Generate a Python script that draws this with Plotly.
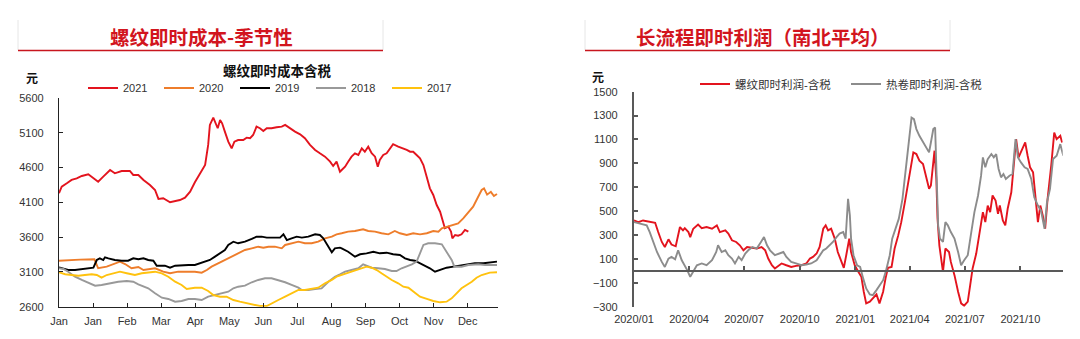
import pandas as pd
import plotly.graph_objects as go

W, H = 1080, 339

# ---------------- Left panel: rebar instant cost by season (yuan/t) ----------------
# x = position in months from the start of the year
month_labels = ["Jan", "Jan", "Feb", "Mar", "Apr", "May", "Jun", "Jul", "Aug", "Sep", "Oct", "Nov", "Dec"]

y2021_x = [0, 0.08, 0.23, 0.37, 0.52, 0.67, 0.86, 1.01, 1.15, 1.30,
           1.50, 1.64, 1.84, 2.08, 2.18, 2.33, 2.48, 2.67, 2.82, 2.92,
           3.06, 3.26, 3.41, 3.55, 3.70, 3.85, 3.99, 4.14, 4.19, 4.29,
           4.38, 4.43, 4.53, 4.60, 4.66, 4.73, 4.79, 4.87, 4.97, 5.07,
           5.15, 5.26, 5.41, 5.51, 5.61, 5.70, 5.80, 5.90, 6.00, 6.10,
           6.24, 6.39, 6.54, 6.64, 6.78, 6.93, 7.08, 7.22, 7.37, 7.52,
           7.66, 7.81, 7.96, 8.05, 8.15, 8.25, 8.30, 8.40, 8.49, 8.59,
           8.69, 8.79, 8.89, 8.98, 9.08, 9.18, 9.28, 9.36, 9.42, 9.52,
           9.62, 9.72, 9.81, 9.96, 10.11, 10.21, 10.31, 10.40, 10.50, 10.60,
           10.70, 10.80, 10.89, 10.99, 11.09, 11.19, 11.28, 11.33, 11.43, 11.51,
           11.55, 11.63, 11.72, 11.82, 11.92, 12.02]
y2021_v = [4230, 4324, 4373, 4421, 4445, 4478, 4503, 4454, 4396, 4468,
           4564, 4517, 4550, 4550, 4493, 4493, 4421, 4349, 4277, 4148,
           4158, 4100, 4119, 4133, 4166, 4253, 4388, 4517, 4540, 4636,
           4924, 5211, 5316, 5235, 5164, 5283, 5235, 5115, 4971, 4876,
           4971, 4995, 4995, 5029, 5020, 5067, 5187, 5164, 5125, 5164,
           5164, 5178, 5187, 5211, 5164, 5115, 5077, 5020, 4924, 4852,
           4804, 4756, 4684, 4622, 4684, 4540, 4564, 4612, 4684, 4756,
           4804, 4780, 4876, 4827, 4899, 4804, 4756, 4612, 4708, 4780,
           4804, 4876, 4934, 4899, 4876, 4852, 4827, 4827, 4780, 4732,
           4636, 4445, 4301, 4205, 4061, 3965, 3821, 3727, 3750, 3678,
           3583, 3630, 3620, 3640, 3702, 3678]

y2020_x = [0, 0.26, 0.62, 1.04, 1.15, 1.40, 1.59, 1.79, 1.94, 2.13,
           2.33, 2.48, 2.82, 3.06, 3.26, 3.50, 3.70, 3.99,
           4.19, 4.34, 4.48, 4.68, 4.87, 4.97, 5.12, 5.26, 5.46, 5.66,
           5.85, 6.00, 6.15, 6.34, 6.54, 6.64, 6.83, 7.03, 7.22, 7.42,
           7.61, 7.81, 8.01, 8.15,
           8.30, 8.49, 8.69, 8.93, 9.08, 9.28, 9.47, 9.67, 9.86, 10.01,
           10.21, 10.40, 10.60, 10.80, 10.99, 11.14, 11.24, 11.38, 11.58, 11.72,
           11.87, 12.02, 12.16, 12.26, 12.33, 12.41, 12.48, 12.57, 12.68, 12.77,
           12.86]
y2020_v = [3261, 3271, 3276, 3281, 3152, 3175, 3213, 3247, 3213, 3152,
           3170, 3127, 3152, 3103, 3080, 3103, 3103, 3103,
           3089, 3127, 3175, 3224, 3271, 3295, 3343, 3367, 3415, 3439,
           3462, 3448, 3462, 3462, 3439, 3487, 3511, 3534, 3511, 3511,
           3534, 3583, 3606, 3640,
           3655, 3678, 3688, 3712, 3688, 3678, 3655, 3640, 3688, 3655,
           3630, 3655, 3640, 3655, 3688, 3678, 3726, 3750, 3774, 3798,
           3870, 3965, 4037, 4133, 4205, 4277, 4300, 4210, 4250, 4190,
           4220]

y2019_x = [0, 0.08, 0.27, 0.47, 0.67, 0.86, 1.01, 1.11, 1.20, 1.30,
           1.35, 1.45, 1.64, 1.84, 2.03, 2.18, 2.33, 2.48, 2.62, 2.77,
           2.87, 3.11, 3.26, 3.41, 3.60, 3.80, 3.99,
           4.14, 4.29, 4.43, 4.58, 4.73, 4.87, 4.97, 5.12, 5.26, 5.46,
           5.66, 5.80, 5.95, 6.10, 6.29, 6.49, 6.59, 6.69, 6.83, 6.98,
           7.13, 7.32, 7.52, 7.66, 7.76, 7.91, 8.01, 8.10, 8.25,
           8.30, 8.49, 8.69, 8.84, 9.03, 9.23, 9.42, 9.62, 9.81, 10.01,
           10.16, 10.31, 10.45, 10.60, 10.75, 10.89, 11.04, 11.19, 11.38, 11.58,
           11.77, 11.97, 12.21, 12.46, 12.65, 12.86]
y2019_v = [3166, 3152, 3127, 3127, 3142, 3152, 3160, 3271, 3295, 3271,
           3310, 3295, 3271, 3261, 3261, 3295, 3281, 3295, 3271, 3261,
           3189, 3189, 3160, 3189, 3199, 3199, 3199,
           3224, 3247, 3271, 3319, 3367, 3415, 3487, 3534, 3511, 3534,
           3573, 3606, 3606, 3592, 3592, 3592, 3640, 3558, 3583, 3606,
           3592, 3606, 3640, 3630, 3583, 3462, 3382, 3439, 3448,
           3439, 3390, 3319, 3353, 3367, 3390, 3367, 3376, 3353, 3343,
           3295, 3271, 3261, 3224, 3189, 3152, 3103, 3127, 3160, 3175,
           3189, 3199, 3224, 3224, 3240, 3247]

y2018_x = [0, 0.13, 0.27, 0.47, 0.67, 0.86, 1.06, 1.25, 1.50, 1.74,
           1.99, 2.18, 2.33, 2.48, 2.62, 2.82, 3.02, 3.21, 3.41, 3.60,
           3.80, 3.99,
           4.19, 4.38, 4.58, 4.78, 4.97, 5.12, 5.26, 5.46, 5.66, 5.85,
           6.05, 6.24, 6.44, 6.64, 6.83, 7.03, 7.13, 7.32, 7.52, 7.71,
           7.91, 8.10, 8.25,
           8.40, 8.59, 8.79, 8.93, 9.03, 9.18, 9.37, 9.57, 9.77, 9.91,
           10.06, 10.21, 10.36, 10.50, 10.60, 10.70, 10.84, 11.04, 11.24, 11.38,
           11.53, 11.61, 11.82, 12.02, 12.31, 12.51, 12.86]
y2018_v = [3152, 3142, 3103, 3031, 2984, 2945, 2902, 2912, 2936, 2959,
           2969, 2959, 2922, 2887, 2864, 2793, 2729, 2711, 2672, 2682,
           2711, 2711,
           2696, 2744, 2768, 2793, 2816, 2864, 2887, 2902, 2951, 2984,
           3008, 3008, 2984, 2951, 2912, 2873, 2840, 2840, 2855, 2864,
           2959, 3031, 3066,
           3103, 3127, 3152, 3209, 3189, 3160, 3152, 3142, 3113, 3113,
           3152, 3175, 3209, 3247, 3367, 3487, 3511, 3511, 3496, 3390,
           3271, 3175, 3175, 3199, 3209, 3199, 3200]

y2017_x = [0, 0.18, 0.37, 0.57, 0.76, 0.96, 1.11, 1.25, 1.40, 1.59,
           1.79, 1.99, 2.23, 2.43, 2.62, 2.82, 3.02, 3.21, 3.41, 3.60,
           3.75, 3.90, 3.99,
           4.19, 4.38, 4.53, 4.73, 4.92, 5.12, 5.31, 5.51, 5.70, 5.90,
           6.10, 6.24, 6.44, 6.64, 6.83, 7.03, 7.22, 7.42, 7.61, 7.81,
           8.01, 8.15,
           8.30, 8.49, 8.69, 8.89, 9.03, 9.18, 9.33, 9.47, 9.62, 9.77,
           9.96, 10.11, 10.26, 10.40, 10.60, 10.80, 10.99, 11.19, 11.38, 11.53,
           11.68, 11.82, 11.97, 12.12, 12.26, 12.41, 12.65, 12.86]
y2017_v = [3094, 3066, 3055, 3045, 3055, 3066, 3055, 3017, 3055, 3080,
           3103, 3080, 3055, 3080, 3094, 3103, 3080, 3031, 2959, 2912,
           2855, 2864, 2873,
           2873, 2826, 2768, 2744, 2744, 2696, 2672, 2649, 2624, 2610,
           2610, 2649, 2696, 2744, 2793, 2840, 2840, 2855, 2873, 2936,
           2984, 3031,
           3055, 3094, 3127, 3160, 3175, 3160, 3127, 3080, 3031, 2984,
           2936, 2887, 2873, 2816, 2744, 2711, 2682, 2663, 2672, 2720,
           2793, 2864, 2912, 2959, 3017, 3055, 3090, 3094]

# ---------------- Right panel: long-process instant profit (yuan/t) ----------------
# x = days elapsed since 2020-01-01
rebar_day = [0, 7, 15, 24, 35, 40, 46, 51, 57, 62, 69, 76, 81, 84, 90, 93, 98, 106, 112, 120,
             129, 137, 142, 151, 156, 162, 169, 175, 181, 187, 195, 203, 211, 217, 222, 228, 233,
             244, 252, 260, 268, 277, 285, 291, 296, 302, 307, 313, 317, 321, 326, 332, 337, 343, 347,
             351, 356, 359, 365, 371, 376, 380, 384, 390, 395, 401, 406, 412, 416, 420, 426, 431, 437,
             442, 448, 453, 459, 462,
             467, 472, 478, 483, 488, 491, 494, 497, 500, 502, 505, 508, 511, 515, 521, 524, 530, 536,
             541, 546, 552, 556, 560, 566, 571, 577, 581, 585, 589, 593, 598, 602, 605, 610, 614, 618,
             624, 629, 632, 636, 642, 647, 651, 655, 660, 664, 668, 672, 676, 680, 684, 690, 695, 699,
             705, 708]
rebar_profit = [422, 408, 422, 414, 403, 325, 242, 200, 264, 220, 206, 367, 339, 358, 325, 283, 353, 387, 358, 367,
                353, 381, 325, 339, 312, 256, 242, 214, 172, 200, 192, 187, 200, 172, 103, 47, 20,
                62, 47, 33, 42, 47, 62, 103, 117, 145, 200, 353, 381, 339, 353, 270, 158, 75, 25,
                131, 270, 158, 47, -8, -50, -175, -272, -258, -230, -197, -272, -175, -63, 25, 33, 187, 297,
                408, 575, 714, 908, 992,
                978, 922, 895, 797, 687, 714, 853, 1006, 770, 437, 214, 103, -8, 187, 158, 75, -36, -175,
                -272, -292, -258, -119, 20, 145, 297, 492, 408, 547, 492, 631, 589, 478, 547, 422, 381, 520,
                658, 908, 1103, 950, 1020, 1075, 964, 867, 825, 603, 408, 547, 464, 353, 603, 881, 1158, 1103,
                1131, 1075]

hrc_day = [0, 10, 21, 26, 32, 38, 46, 51, 57, 62, 68, 73, 79, 84, 88, 93, 98, 104, 112, 120,
           129, 136, 139, 145, 151, 156, 162, 167, 173, 178, 184, 189, 196, 203, 210, 215, 220, 225, 233,
           241, 247, 252, 260, 268, 277, 285, 293, 302, 307, 313, 318, 324, 329, 335, 340, 346, 350,
           354, 357, 359, 363, 369, 374, 379, 384, 390, 395, 401, 406, 412, 417, 423, 427, 433, 438,
           444, 449, 455, 459, 463,
           467, 472, 478, 483, 488, 491, 495, 498, 501, 503, 506, 511, 515, 519, 524, 530, 536, 541,
           546, 552, 557, 563, 569, 574, 577, 581, 585, 591, 595, 599, 603, 607, 611, 615, 621, 626,
           631, 635, 640, 646, 651, 657, 662, 668, 673, 679, 683, 688, 693, 699, 705, 710]
hrc_profit = [408, 395, 381, 325, 242, 158, 75, 33, 103, 117, 97, 172, 89, 47, 6, -50, -8, 47, 62, 47,
              89, 158, 214, 158, 172, 131, 103, 62, 117, 89, 145, 172, 200, 187, 242, 283, 214, 172, 131,
              145, 158, 117, 75, 62, 47, 53, 62, 89, 131, 172, 187, 214, 242, 283, 312, 325, 270,
              603, 464, 270, 131, 47, 33, -63, -147, -197, -203, -161, -119, -78, 6, 131, 270, 353, 437,
              603, 825, 1075, 1283, 1270,
              1187, 1131, 1075, 1033, 992, 1075, 1187, 1200, 714, 381, 270, 242, 408, 381, 325, 270, 158, 47,
              89, 131, 297, 492, 631, 797, 950, 867, 936, 978, 950, 978, 853, 783, 811, 770, 797, 811,
              1103, 950, 908, 867, 853, 770, 617, 547, 506, 353, 575, 687, 936, 964, 1061, 964]

quarter_ticks = ["2020-01-01", "2020-04-01", "2020-07-01", "2020-10-01",
                 "2021-01-01", "2021-04-01", "2021-07-01", "2021-10-01"]

start = pd.Timestamp("2020-01-01")
rebar_dates = start + pd.to_timedelta(rebar_day, unit="D")
hrc_dates = start + pd.to_timedelta(hrc_day, unit="D")

# ---------------- helpers: pixel -> paper fractions ----------------
def fx(px):
    return px / W


def fy(py):
    return 1 - py / H


FONT = "Liberation Sans, Noto Sans CJK SC, sans-serif"
CJK = "Noto Sans CJK SC, sans-serif"
TITLE_RED = "#D2151E"
TXT = "#333333"

fig = go.Figure()

season = [
    ("2021", y2021_x, y2021_v, "#E3141E"),
    ("2020", y2020_x, y2020_v, "#EE7D2B"),
    ("2019", y2019_x, y2019_v, "#000000"),
    ("2018", y2018_x, y2018_v, "#999999"),
    ("2017", y2017_x, y2017_v, "#FFC20E"),
]
for name, xs, vs, color in season:
    fig.add_trace(go.Scatter(x=xs, y=vs, mode="lines", name=name,
                             line=dict(color=color, width=1.9),
                             xaxis="x", yaxis="y", legend="legend"))

fig.add_trace(go.Scatter(x=rebar_dates, y=rebar_profit, mode="lines", name="螺纹即时利润-含税",
                         line=dict(color="#E3141E", width=1.9),
                         xaxis="x2", yaxis="y2", legend="legend2"))
fig.add_trace(go.Scatter(x=hrc_dates, y=hrc_profit, mode="lines", name="热卷即时利润-含税",
                         line=dict(color="#8C8C8C", width=1.9),
                         xaxis="x2", yaxis="y2", legend="legend2"))
# empty trace that hosts the zero-level date axis of the right panel
fig.add_trace(go.Scatter(x=[], y=[], mode="lines", showlegend=False, hoverinfo="skip",
                         xaxis="x3", yaxis="y2"))

# panel geometry
L_X0, L_X1, L_Y0, L_Y1 = 59, 498, 306.7, 97.9
R_X0, R_X1, R_Y0, R_Y1 = 634, 1062.7, 306.7, 91.7
prof_range = [-300, 1500]
zero_pos = fy(R_Y0) + (0 - prof_range[0]) / (prof_range[1] - prof_range[0]) * (fy(R_Y1) - fy(R_Y0))
date_range = ["2020-01-01", "2021-12-10"]

axis_font = dict(family=FONT, size=11, color=TXT)

fig.update_layout(
    width=W, height=H,
    margin=dict(l=0, r=0, t=0, b=0, pad=0, autoexpand=False),
    paper_bgcolor="white", plot_bgcolor="white",
    showlegend=True,
    xaxis=dict(domain=[fx(L_X0), fx(L_X1)], anchor="y", range=[0, 12.89], automargin=False,
               tickmode="array", tickvals=list(range(13)), ticktext=month_labels,
               ticks="inside", ticklen=4, tickcolor="#222222", tickwidth=1,
               showline=True, linecolor="#222222", linewidth=1.2,
               showgrid=False, zeroline=False, tickfont=axis_font, ticklabelstandoff=4),
    yaxis=dict(domain=[fy(L_Y0), fy(L_Y1)], anchor="x", range=[2600, 5600], automargin=False,
               tickmode="linear", tick0=2600, dtick=500,
               ticks="inside", ticklen=4, tickcolor="#222222", tickwidth=1,
               showline=True, linecolor="#222222", linewidth=1.2,
               showgrid=False, zeroline=False, tickfont=axis_font, ticklabelstandoff=12),
    xaxis2=dict(domain=[fx(R_X0), fx(R_X1)], anchor="y2", type="date", range=date_range, automargin=False,
                tickmode="array", tickvals=quarter_ticks, tickformat="%Y/%m",
                ticks="", showline=False, showgrid=False, zeroline=False,
                tickfont=axis_font, ticklabelstandoff=4),
    xaxis3=dict(overlaying="x2", anchor="free", position=zero_pos, type="date", range=date_range,
                automargin=False,
                tickmode="array", tickvals=quarter_ticks, showticklabels=False,
                ticks="inside", ticklen=4, tickcolor="#595959", tickwidth=1.5,
                showline=True, linecolor="#595959", linewidth=2.2,
                showgrid=False, zeroline=False),
    yaxis2=dict(domain=[fy(R_Y0), fy(R_Y1)], anchor="x2", range=prof_range, automargin=False,
                tickmode="linear", tick0=-300, dtick=200,
                ticks="inside", ticklen=4, tickcolor="#595959", tickwidth=1.5,
                showline=True, linecolor="#595959", linewidth=2.2,
                showgrid=False, zeroline=False, tickfont=axis_font, ticklabelstandoff=12),
    legend=dict(orientation="h", x=fx(83), y=fy(88), xanchor="left", yanchor="middle",
                font=dict(family=FONT, size=11, color=TXT), bgcolor="rgba(0,0,0,0)",
                itemwidth=30, entrywidth=31, entrywidthmode="pixels", traceorder="normal"),
    legend2=dict(orientation="h", x=fx(695), y=fy(84), xanchor="left", yanchor="middle",
                 font=dict(family=FONT, size=11.5, color=TXT), bgcolor="rgba(0,0,0,0)",
                 itemwidth=30, entrywidth=106, entrywidthmode="pixels", traceorder="normal"),
)

annotations = [
    # panel headers
    dict(text="<b>螺纹即时成本-季节性</b>", x=fx(201), y=fy(37), font=dict(family=CJK, size=19.5, color=TITLE_RED)),
    dict(text="<b>长流程即时利润（南北平均）</b>", x=fx(763), y=fy(37), font=dict(family=CJK, size=19.5, color=TITLE_RED)),
    # chart caption and units
    dict(text="<b>螺纹即时成本含税</b>", x=fx(277), y=fy(70), font=dict(family=CJK, size=13.5, color="#111111")),
    dict(text="<b>元</b>", x=fx(32), y=fy(77), font=dict(family=CJK, size=12, color="#111111")),
    dict(text="<b>元</b>", x=fx(598), y=fy(76), font=dict(family=CJK, size=12, color="#111111")),
]
for a in annotations:
    a.update(xref="paper", yref="paper", showarrow=False, xanchor="center", yanchor="middle")
fig.update_layout(annotations=annotations)

# header frames: faint side borders with a red underline
shapes = []
for x0, x1 in [(18, 383), (585, 950)]:
    shapes.append(dict(type="line", xref="paper", yref="paper", x0=fx(x0), x1=fx(x0), y0=fy(20), y1=fy(50),
                       line=dict(color="#E6E6E6", width=1)))
    shapes.append(dict(type="line", xref="paper", yref="paper", x0=fx(x1), x1=fx(x1), y0=fy(20), y1=fy(50),
                       line=dict(color="#E6E6E6", width=1)))
    shapes.append(dict(type="line", xref="paper", yref="paper", x0=fx(x0), x1=fx(x1), y0=fy(50.5), y1=fy(50.5),
                       line=dict(color="#C8161E", width=1.6)))
fig.update_layout(shapes=shapes)

fig.write_html("out.html")
